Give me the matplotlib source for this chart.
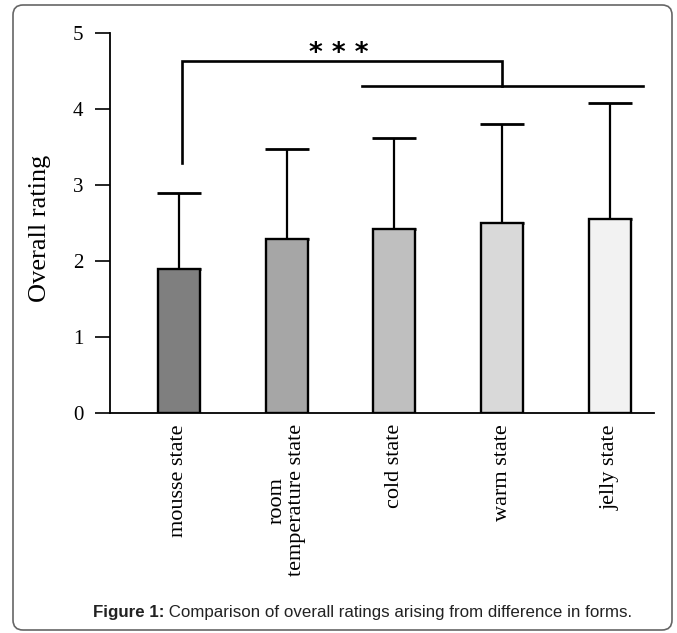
import matplotlib
matplotlib.use("Agg")
import matplotlib.pyplot as plt
from matplotlib.patches import FancyBboxPatch
from matplotlib.transforms import IdentityTransform
import numpy as np

# ---- data ----
categories = ["mousse state", "room\ntemperature state", "cold state", "warm state", "jelly state"]
means = [1.89, 2.29, 2.42, 2.50, 2.55]
sd_upper = [1.00, 1.18, 1.20, 1.30, 1.53]
y_ticks = [0, 1, 2, 3, 4, 5]
bracket_left_low = 3.29
bracket_top = 4.63
bracket_right_low = 4.30
sig_label = "* * *"
caption_bold = "Figure 1:"
caption_rest = " Comparison of overall ratings arising from difference in forms."

# ---- style ----
bar_colors = ["#7f7f7f", "#a6a6a6", "#bfbfbf", "#d9d9d9", "#f2f2f2"]
serif = "Liberation Serif"
sans = "Liberation Sans"

W, H = 677, 633
fig = plt.figure(figsize=(W / 100, H / 100), dpi=100)
ax = fig.add_axes([110 / W, 1 - 413 / H, (654 - 110) / W, 380 / H])

x = np.arange(len(categories))
ax.bar(x, means, width=0.39, color=bar_colors, edgecolor="black", linewidth=1.7, zorder=2)
ax.errorbar(x, means, yerr=[np.zeros(len(means)), sd_upper], fmt="none",
            ecolor="black", elinewidth=1.6, capsize=15.5, capthick=2.0, zorder=1)

# significance bracket
ax.plot([0.03, 0.03, 3.0, 3.0], [bracket_left_low, bracket_top, bracket_top, bracket_right_low],
        color="black", lw=1.9, solid_joinstyle="miter", zorder=3)
ax.plot([1.70, 4.31], [bracket_right_low, bracket_right_low], color="black", lw=1.9, zorder=3)
ax.text(1.48, 4.72, sig_label, ha="center", va="center", fontsize=19,
        fontfamily="DejaVu Sans", fontweight="bold")

ax.set_xlim(-0.64, 4.41)
ax.set_ylim(0, 5)
ax.set_yticks(y_ticks)
ax.set_yticklabels([str(v) for v in y_ticks], fontfamily=serif, fontsize=15)
ax.set_xticks(x)
ax.set_xticklabels(categories, rotation=90, fontfamily=serif, fontsize=16,
                   ha="center", va="top", multialignment="center", linespacing=1.0)
ax.tick_params(axis="x", length=0, pad=8)
ax.tick_params(axis="y", direction="out", length=11, width=1.2, pad=8)
for s in ["top", "right"]:
    ax.spines[s].set_visible(False)
for s in ["left", "bottom"]:
    ax.spines[s].set_linewidth(1.3)
ax.set_ylabel("Overall rating", fontfamily=serif, fontsize=19)
ax.yaxis.set_label_coords((51 - 110) / 544, (413 - 228) / 380)

# border
box = FancyBboxPatch((13, 3), 659, 625, boxstyle="round,pad=0,rounding_size=10",
                     transform=IdentityTransform(), facecolor="none",
                     edgecolor="#666666", linewidth=1.2)
fig.patches.append(box)

# caption
fig.canvas.draw()
r = fig.canvas.get_renderer()
t1 = fig.text(93 / W, 1 - 612 / H, caption_bold, fontfamily=sans, fontweight="bold",
              fontsize=12.2, ha="left", va="center", color="#222222")
bb = t1.get_window_extent(renderer=r)
fig.text(bb.x1 / W, 1 - 612 / H, caption_rest, fontfamily=sans, fontsize=12.2,
         ha="left", va="center", color="#222222")

fig.savefig("out.png", dpi=100)
